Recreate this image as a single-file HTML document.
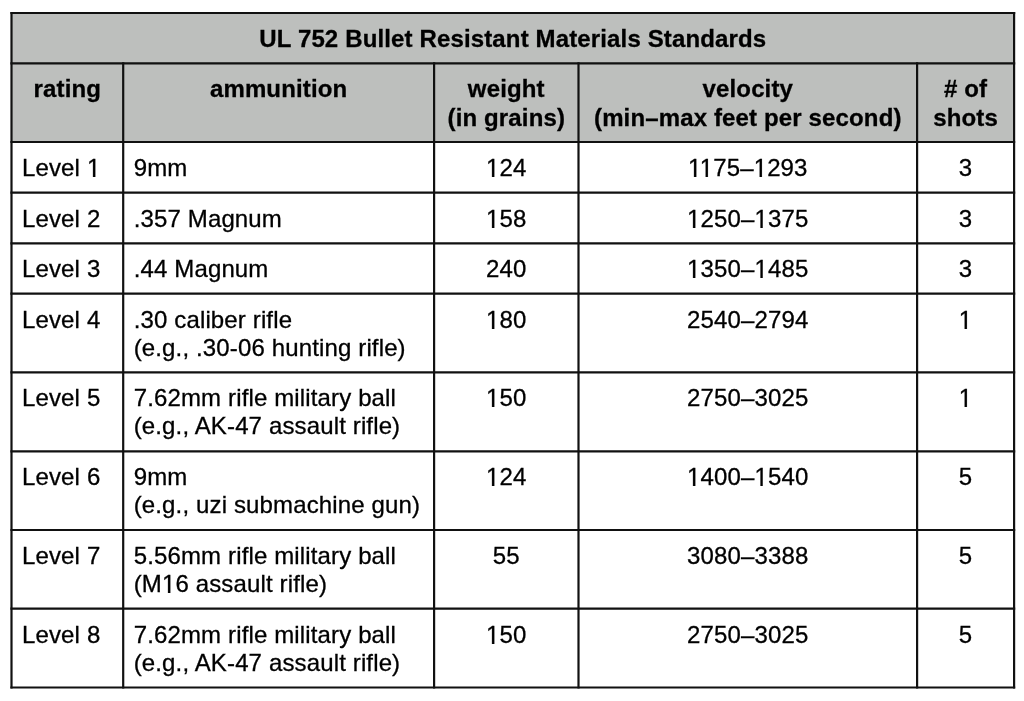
<!DOCTYPE html>
<html><head><meta charset="utf-8"><style>
html,body{margin:0;padding:0;background:#fff;width:1024px;height:701px;overflow:hidden;}
body{position:relative;font-family:"Liberation Sans",sans-serif;font-size:24px;line-height:28px;color:#000;letter-spacing:0.14px;-webkit-text-stroke:0.3px #000;}
#txt{position:absolute;left:0;top:0;width:1024px;height:701px;will-change:transform;}
.t{position:absolute;white-space:pre;}
.b{font-weight:bold;}
.c{text-align:center;}
svg{position:absolute;left:0;top:0;}
</style></head><body>
<svg width="1024" height="701" viewBox="0 0 1024 701">
<rect x="11.5" y="13" width="1002.6" height="129" fill="#bdbfbd"/>
<line x1="10.4" y1="13" x2="1015.2" y2="13" stroke="#111" stroke-width="2.2"/>
<line x1="10.4" y1="63.3" x2="1015.2" y2="63.3" stroke="#111" stroke-width="2.2"/>
<line x1="10.4" y1="142" x2="1015.2" y2="142" stroke="#111" stroke-width="2.2"/>
<line x1="10.4" y1="192.6" x2="1015.2" y2="192.6" stroke="#111" stroke-width="2.2"/>
<line x1="10.4" y1="243.3" x2="1015.2" y2="243.3" stroke="#111" stroke-width="2.2"/>
<line x1="10.4" y1="293.7" x2="1015.2" y2="293.7" stroke="#111" stroke-width="2.2"/>
<line x1="10.4" y1="372.4" x2="1015.2" y2="372.4" stroke="#111" stroke-width="2.2"/>
<line x1="10.4" y1="451.3" x2="1015.2" y2="451.3" stroke="#111" stroke-width="2.2"/>
<line x1="10.4" y1="530" x2="1015.2" y2="530" stroke="#111" stroke-width="2.2"/>
<line x1="10.4" y1="608.7" x2="1015.2" y2="608.7" stroke="#111" stroke-width="2.2"/>
<line x1="10.4" y1="687.5" x2="1015.2" y2="687.5" stroke="#111" stroke-width="2.2"/>
<line x1="11.5" y1="11.9" x2="11.5" y2="688.6" stroke="#111" stroke-width="2.2"/>
<line x1="123.2" y1="62.199999999999996" x2="123.2" y2="688.6" stroke="#111" stroke-width="2.2"/>
<line x1="434.1" y1="62.199999999999996" x2="434.1" y2="688.6" stroke="#111" stroke-width="2.2"/>
<line x1="578.5" y1="62.199999999999996" x2="578.5" y2="688.6" stroke="#111" stroke-width="2.2"/>
<line x1="917.1" y1="62.199999999999996" x2="917.1" y2="688.6" stroke="#111" stroke-width="2.2"/>
<line x1="1014.1" y1="11.9" x2="1014.1" y2="688.6" stroke="#111" stroke-width="2.2"/>
</svg>
<div id="txt">
<div class="t b c" style="left:11.50px;top:24.90px;width:1002.60px;">UL 752 Bullet Resistant Materials Standards</div>
<div class="t b c" style="left:11.50px;top:75.10px;width:111.70px;">rating</div>
<div class="t b c" style="left:123.20px;top:75.10px;width:310.90px;">ammunition</div>
<div class="t b c" style="left:434.10px;top:75.10px;width:144.40px;">weight</div>
<div class="t b c" style="left:434.10px;top:103.60px;width:144.40px;">(in grains)</div>
<div class="t b c" style="left:578.50px;top:75.10px;width:338.60px;">velocity</div>
<div class="t b c" style="left:578.50px;top:103.60px;width:338.60px;">(min–max feet per second)</div>
<div class="t b c" style="left:917.10px;top:75.10px;width:97.00px;"># of</div>
<div class="t b c" style="left:917.10px;top:103.60px;width:97.00px;">shots</div>
<div class="t " style="left:22.00px;top:154.00px;">Level 1</div>
<div class="t " style="left:133.70px;top:154.00px;">9mm</div>
<div class="t c" style="left:434.10px;top:154.00px;width:144.40px;">124</div>
<div class="t c" style="left:578.50px;top:154.00px;width:338.60px;">1175–1293</div>
<div class="t c" style="left:917.10px;top:154.00px;width:97.00px;">3</div>
<div class="t " style="left:22.00px;top:204.60px;">Level 2</div>
<div class="t " style="left:133.70px;top:204.60px;">.357 Magnum</div>
<div class="t c" style="left:434.10px;top:204.60px;width:144.40px;">158</div>
<div class="t c" style="left:578.50px;top:204.60px;width:338.60px;">1250–1375</div>
<div class="t c" style="left:917.10px;top:204.60px;width:97.00px;">3</div>
<div class="t " style="left:22.00px;top:255.30px;">Level 3</div>
<div class="t " style="left:133.70px;top:255.30px;">.44 Magnum</div>
<div class="t c" style="left:434.10px;top:255.30px;width:144.40px;">240</div>
<div class="t c" style="left:578.50px;top:255.30px;width:338.60px;">1350–1485</div>
<div class="t c" style="left:917.10px;top:255.30px;width:97.00px;">3</div>
<div class="t " style="left:22.00px;top:305.70px;">Level 4</div>
<div class="t " style="left:133.70px;top:305.70px;">.30 caliber rifle</div>
<div class="t " style="left:133.70px;top:333.70px;">(e.g., .30-06 hunting rifle)</div>
<div class="t c" style="left:434.10px;top:305.70px;width:144.40px;">180</div>
<div class="t c" style="left:578.50px;top:305.70px;width:338.60px;">2540–2794</div>
<div class="t c" style="left:917.10px;top:305.70px;width:97.00px;">1</div>
<div class="t " style="left:22.00px;top:384.40px;">Level 5</div>
<div class="t " style="left:133.70px;top:384.40px;">7.62mm rifle military ball</div>
<div class="t " style="left:133.70px;top:412.40px;">(e.g., AK-47 assault rifle)</div>
<div class="t c" style="left:434.10px;top:384.40px;width:144.40px;">150</div>
<div class="t c" style="left:578.50px;top:384.40px;width:338.60px;">2750–3025</div>
<div class="t c" style="left:917.10px;top:384.40px;width:97.00px;">1</div>
<div class="t " style="left:22.00px;top:463.30px;">Level 6</div>
<div class="t " style="left:133.70px;top:463.30px;">9mm</div>
<div class="t " style="left:133.70px;top:491.30px;">(e.g., uzi submachine gun)</div>
<div class="t c" style="left:434.10px;top:463.30px;width:144.40px;">124</div>
<div class="t c" style="left:578.50px;top:463.30px;width:338.60px;">1400–1540</div>
<div class="t c" style="left:917.10px;top:463.30px;width:97.00px;">5</div>
<div class="t " style="left:22.00px;top:542.00px;">Level 7</div>
<div class="t " style="left:133.70px;top:542.00px;">5.56mm rifle military ball</div>
<div class="t " style="left:133.70px;top:570.00px;">(M16 assault rifle)</div>
<div class="t c" style="left:434.10px;top:542.00px;width:144.40px;">55</div>
<div class="t c" style="left:578.50px;top:542.00px;width:338.60px;">3080–3388</div>
<div class="t c" style="left:917.10px;top:542.00px;width:97.00px;">5</div>
<div class="t " style="left:22.00px;top:620.70px;">Level 8</div>
<div class="t " style="left:133.70px;top:620.70px;">7.62mm rifle military ball</div>
<div class="t " style="left:133.70px;top:648.70px;">(e.g., AK-47 assault rifle)</div>
<div class="t c" style="left:434.10px;top:620.70px;width:144.40px;">150</div>
<div class="t c" style="left:578.50px;top:620.70px;width:338.60px;">2750–3025</div>
<div class="t c" style="left:917.10px;top:620.70px;width:97.00px;">5</div>
<!--ONES-->
<div id="ov"><style>#ov i{position:absolute;height:1px;display:block}</style><i style="left:88px;top:174px;width:4px;background:rgb(255,255,255)"></i><i style="left:92px;top:174px;width:1px;background:rgb(224,224,224)"></i><i style="left:93px;top:174px;width:1px;background:rgb(9,9,9)"></i><i style="left:95px;top:174px;width:1px;background:rgb(151,151,151)"></i><i style="left:96px;top:174px;width:4px;background:rgb(255,255,255)"></i><i style="left:88px;top:175px;width:4px;background:rgb(255,255,255)"></i><i style="left:92px;top:175px;width:1px;background:rgb(224,224,224)"></i><i style="left:93px;top:175px;width:1px;background:rgb(9,9,9)"></i><i style="left:95px;top:175px;width:1px;background:rgb(151,151,151)"></i><i style="left:96px;top:175px;width:4px;background:rgb(255,255,255)"></i><i style="left:88px;top:176px;width:4px;background:rgb(255,255,255)"></i><i style="left:92px;top:176px;width:1px;background:rgb(224,224,224)"></i><i style="left:93px;top:176px;width:1px;background:rgb(9,9,9)"></i><i style="left:94px;top:176px;width:1px;background:rgb(0,0,0)"></i><i style="left:95px;top:176px;width:1px;background:rgb(151,151,151)"></i><i style="left:96px;top:176px;width:4px;background:rgb(255,255,255)"></i><i style="left:487px;top:174px;width:4px;background:rgb(255,255,255)"></i><i style="left:491px;top:174px;width:1px;background:rgb(224,224,224)"></i><i style="left:492px;top:174px;width:1px;background:rgb(9,9,9)"></i><i style="left:494px;top:174px;width:1px;background:rgb(151,151,151)"></i><i style="left:495px;top:174px;width:4px;background:rgb(255,255,255)"></i><i style="left:487px;top:175px;width:4px;background:rgb(255,255,255)"></i><i style="left:491px;top:175px;width:1px;background:rgb(224,224,224)"></i><i style="left:492px;top:175px;width:1px;background:rgb(9,9,9)"></i><i style="left:494px;top:175px;width:1px;background:rgb(151,151,151)"></i><i style="left:495px;top:175px;width:4px;background:rgb(255,255,255)"></i><i style="left:487px;top:176px;width:4px;background:rgb(255,255,255)"></i><i style="left:491px;top:176px;width:1px;background:rgb(224,224,224)"></i><i style="left:492px;top:176px;width:1px;background:rgb(9,9,9)"></i><i style="left:493px;top:176px;width:1px;background:rgb(0,0,0)"></i><i style="left:494px;top:176px;width:1px;background:rgb(151,151,151)"></i><i style="left:495px;top:176px;width:4px;background:rgb(255,255,255)"></i><i style="left:689px;top:174px;width:4px;background:rgb(255,255,255)"></i><i style="left:693px;top:174px;width:1px;background:rgb(224,224,224)"></i><i style="left:694px;top:174px;width:1px;background:rgb(9,9,9)"></i><i style="left:696px;top:174px;width:1px;background:rgb(151,151,151)"></i><i style="left:697px;top:174px;width:4px;background:rgb(255,255,255)"></i><i style="left:689px;top:175px;width:4px;background:rgb(255,255,255)"></i><i style="left:693px;top:175px;width:1px;background:rgb(224,224,224)"></i><i style="left:694px;top:175px;width:1px;background:rgb(9,9,9)"></i><i style="left:696px;top:175px;width:1px;background:rgb(151,151,151)"></i><i style="left:697px;top:175px;width:4px;background:rgb(255,255,255)"></i><i style="left:689px;top:176px;width:4px;background:rgb(255,255,255)"></i><i style="left:693px;top:176px;width:1px;background:rgb(224,224,224)"></i><i style="left:694px;top:176px;width:1px;background:rgb(9,9,9)"></i><i style="left:695px;top:176px;width:1px;background:rgb(0,0,0)"></i><i style="left:696px;top:176px;width:1px;background:rgb(151,151,151)"></i><i style="left:697px;top:176px;width:4px;background:rgb(255,255,255)"></i><i style="left:701px;top:174px;width:4px;background:rgb(255,255,255)"></i><i style="left:705px;top:174px;width:1px;background:rgb(140,140,140)"></i><i style="left:707px;top:174px;width:1px;background:rgb(21,21,21)"></i><i style="left:708px;top:174px;width:1px;background:rgb(241,241,241)"></i><i style="left:709px;top:174px;width:4px;background:rgb(255,255,255)"></i><i style="left:701px;top:175px;width:4px;background:rgb(255,255,255)"></i><i style="left:705px;top:175px;width:1px;background:rgb(140,140,140)"></i><i style="left:707px;top:175px;width:1px;background:rgb(21,21,21)"></i><i style="left:708px;top:175px;width:1px;background:rgb(241,241,241)"></i><i style="left:709px;top:175px;width:4px;background:rgb(255,255,255)"></i><i style="left:701px;top:176px;width:4px;background:rgb(255,255,255)"></i><i style="left:705px;top:176px;width:1px;background:rgb(140,140,140)"></i><i style="left:706px;top:176px;width:1px;background:rgb(0,0,0)"></i><i style="left:707px;top:176px;width:1px;background:rgb(21,21,21)"></i><i style="left:708px;top:176px;width:1px;background:rgb(241,241,241)"></i><i style="left:709px;top:176px;width:4px;background:rgb(255,255,255)"></i><i style="left:755px;top:174px;width:4px;background:rgb(255,255,255)"></i><i style="left:759px;top:174px;width:1px;background:rgb(140,140,140)"></i><i style="left:761px;top:174px;width:1px;background:rgb(21,21,21)"></i><i style="left:762px;top:174px;width:1px;background:rgb(241,241,241)"></i><i style="left:763px;top:174px;width:4px;background:rgb(255,255,255)"></i><i style="left:755px;top:175px;width:4px;background:rgb(255,255,255)"></i><i style="left:759px;top:175px;width:1px;background:rgb(140,140,140)"></i><i style="left:761px;top:175px;width:1px;background:rgb(21,21,21)"></i><i style="left:762px;top:175px;width:1px;background:rgb(241,241,241)"></i><i style="left:763px;top:175px;width:4px;background:rgb(255,255,255)"></i><i style="left:755px;top:176px;width:4px;background:rgb(255,255,255)"></i><i style="left:759px;top:176px;width:1px;background:rgb(140,140,140)"></i><i style="left:760px;top:176px;width:1px;background:rgb(0,0,0)"></i><i style="left:761px;top:176px;width:1px;background:rgb(21,21,21)"></i><i style="left:762px;top:176px;width:1px;background:rgb(241,241,241)"></i><i style="left:763px;top:176px;width:4px;background:rgb(255,255,255)"></i><i style="left:487px;top:225px;width:4px;background:rgb(255,255,255)"></i><i style="left:491px;top:225px;width:1px;background:rgb(224,224,224)"></i><i style="left:492px;top:225px;width:1px;background:rgb(9,9,9)"></i><i style="left:494px;top:225px;width:1px;background:rgb(151,151,151)"></i><i style="left:495px;top:225px;width:4px;background:rgb(255,255,255)"></i><i style="left:487px;top:226px;width:4px;background:rgb(255,255,255)"></i><i style="left:491px;top:226px;width:1px;background:rgb(224,224,224)"></i><i style="left:492px;top:226px;width:1px;background:rgb(9,9,9)"></i><i style="left:494px;top:226px;width:1px;background:rgb(151,151,151)"></i><i style="left:495px;top:226px;width:4px;background:rgb(255,255,255)"></i><i style="left:487px;top:227px;width:4px;background:rgb(255,255,255)"></i><i style="left:491px;top:227px;width:1px;background:rgb(224,224,224)"></i><i style="left:492px;top:227px;width:1px;background:rgb(9,9,9)"></i><i style="left:493px;top:227px;width:1px;background:rgb(0,0,0)"></i><i style="left:494px;top:227px;width:1px;background:rgb(151,151,151)"></i><i style="left:495px;top:227px;width:4px;background:rgb(255,255,255)"></i><i style="left:688px;top:225px;width:4px;background:rgb(255,255,255)"></i><i style="left:692px;top:225px;width:1px;background:rgb(224,224,224)"></i><i style="left:693px;top:225px;width:1px;background:rgb(9,9,9)"></i><i style="left:695px;top:225px;width:1px;background:rgb(151,151,151)"></i><i style="left:696px;top:225px;width:4px;background:rgb(255,255,255)"></i><i style="left:688px;top:226px;width:4px;background:rgb(255,255,255)"></i><i style="left:692px;top:226px;width:1px;background:rgb(224,224,224)"></i><i style="left:693px;top:226px;width:1px;background:rgb(9,9,9)"></i><i style="left:695px;top:226px;width:1px;background:rgb(151,151,151)"></i><i style="left:696px;top:226px;width:4px;background:rgb(255,255,255)"></i><i style="left:688px;top:227px;width:4px;background:rgb(255,255,255)"></i><i style="left:692px;top:227px;width:1px;background:rgb(224,224,224)"></i><i style="left:693px;top:227px;width:1px;background:rgb(9,9,9)"></i><i style="left:694px;top:227px;width:1px;background:rgb(0,0,0)"></i><i style="left:695px;top:227px;width:1px;background:rgb(151,151,151)"></i><i style="left:696px;top:227px;width:4px;background:rgb(255,255,255)"></i><i style="left:756px;top:225px;width:4px;background:rgb(255,255,255)"></i><i style="left:760px;top:225px;width:1px;background:rgb(97,97,97)"></i><i style="left:762px;top:225px;width:1px;background:rgb(65,65,65)"></i><i style="left:763px;top:225px;width:4px;background:rgb(255,255,255)"></i><i style="left:756px;top:226px;width:4px;background:rgb(255,255,255)"></i><i style="left:760px;top:226px;width:1px;background:rgb(97,97,97)"></i><i style="left:762px;top:226px;width:1px;background:rgb(65,65,65)"></i><i style="left:763px;top:226px;width:4px;background:rgb(255,255,255)"></i><i style="left:756px;top:227px;width:4px;background:rgb(255,255,255)"></i><i style="left:760px;top:227px;width:1px;background:rgb(97,97,97)"></i><i style="left:761px;top:227px;width:1px;background:rgb(0,0,0)"></i><i style="left:762px;top:227px;width:1px;background:rgb(65,65,65)"></i><i style="left:763px;top:227px;width:4px;background:rgb(255,255,255)"></i><i style="left:688px;top:275px;width:4px;background:rgb(255,255,255)"></i><i style="left:692px;top:275px;width:1px;background:rgb(224,224,224)"></i><i style="left:693px;top:275px;width:1px;background:rgb(9,9,9)"></i><i style="left:695px;top:275px;width:1px;background:rgb(151,151,151)"></i><i style="left:696px;top:275px;width:4px;background:rgb(255,255,255)"></i><i style="left:688px;top:276px;width:4px;background:rgb(255,255,255)"></i><i style="left:692px;top:276px;width:1px;background:rgb(224,224,224)"></i><i style="left:693px;top:276px;width:1px;background:rgb(9,9,9)"></i><i style="left:695px;top:276px;width:1px;background:rgb(151,151,151)"></i><i style="left:696px;top:276px;width:4px;background:rgb(255,255,255)"></i><i style="left:688px;top:277px;width:4px;background:rgb(255,255,255)"></i><i style="left:692px;top:277px;width:1px;background:rgb(224,224,224)"></i><i style="left:693px;top:277px;width:1px;background:rgb(9,9,9)"></i><i style="left:694px;top:277px;width:1px;background:rgb(0,0,0)"></i><i style="left:695px;top:277px;width:1px;background:rgb(151,151,151)"></i><i style="left:696px;top:277px;width:4px;background:rgb(255,255,255)"></i><i style="left:756px;top:275px;width:4px;background:rgb(255,255,255)"></i><i style="left:760px;top:275px;width:1px;background:rgb(97,97,97)"></i><i style="left:762px;top:275px;width:1px;background:rgb(65,65,65)"></i><i style="left:763px;top:275px;width:4px;background:rgb(255,255,255)"></i><i style="left:756px;top:276px;width:4px;background:rgb(255,255,255)"></i><i style="left:760px;top:276px;width:1px;background:rgb(97,97,97)"></i><i style="left:762px;top:276px;width:1px;background:rgb(65,65,65)"></i><i style="left:763px;top:276px;width:4px;background:rgb(255,255,255)"></i><i style="left:756px;top:277px;width:4px;background:rgb(255,255,255)"></i><i style="left:760px;top:277px;width:1px;background:rgb(97,97,97)"></i><i style="left:761px;top:277px;width:1px;background:rgb(0,0,0)"></i><i style="left:762px;top:277px;width:1px;background:rgb(65,65,65)"></i><i style="left:763px;top:277px;width:4px;background:rgb(255,255,255)"></i><i style="left:487px;top:326px;width:4px;background:rgb(255,255,255)"></i><i style="left:491px;top:326px;width:1px;background:rgb(224,224,224)"></i><i style="left:492px;top:326px;width:1px;background:rgb(9,9,9)"></i><i style="left:494px;top:326px;width:1px;background:rgb(151,151,151)"></i><i style="left:495px;top:326px;width:4px;background:rgb(255,255,255)"></i><i style="left:487px;top:327px;width:4px;background:rgb(255,255,255)"></i><i style="left:491px;top:327px;width:1px;background:rgb(224,224,224)"></i><i style="left:492px;top:327px;width:1px;background:rgb(9,9,9)"></i><i style="left:494px;top:327px;width:1px;background:rgb(151,151,151)"></i><i style="left:495px;top:327px;width:4px;background:rgb(255,255,255)"></i><i style="left:487px;top:328px;width:4px;background:rgb(255,255,255)"></i><i style="left:491px;top:328px;width:1px;background:rgb(224,224,224)"></i><i style="left:492px;top:328px;width:1px;background:rgb(9,9,9)"></i><i style="left:493px;top:328px;width:1px;background:rgb(0,0,0)"></i><i style="left:494px;top:328px;width:1px;background:rgb(151,151,151)"></i><i style="left:495px;top:328px;width:4px;background:rgb(255,255,255)"></i><i style="left:960px;top:326px;width:4px;background:rgb(255,255,255)"></i><i style="left:964px;top:326px;width:1px;background:rgb(140,140,140)"></i><i style="left:966px;top:326px;width:1px;background:rgb(21,21,21)"></i><i style="left:967px;top:326px;width:1px;background:rgb(241,241,241)"></i><i style="left:968px;top:326px;width:4px;background:rgb(255,255,255)"></i><i style="left:960px;top:327px;width:4px;background:rgb(255,255,255)"></i><i style="left:964px;top:327px;width:1px;background:rgb(140,140,140)"></i><i style="left:966px;top:327px;width:1px;background:rgb(21,21,21)"></i><i style="left:967px;top:327px;width:1px;background:rgb(241,241,241)"></i><i style="left:968px;top:327px;width:4px;background:rgb(255,255,255)"></i><i style="left:960px;top:328px;width:4px;background:rgb(255,255,255)"></i><i style="left:964px;top:328px;width:1px;background:rgb(140,140,140)"></i><i style="left:965px;top:328px;width:1px;background:rgb(0,0,0)"></i><i style="left:966px;top:328px;width:1px;background:rgb(21,21,21)"></i><i style="left:967px;top:328px;width:1px;background:rgb(241,241,241)"></i><i style="left:968px;top:328px;width:4px;background:rgb(255,255,255)"></i><i style="left:487px;top:404px;width:4px;background:rgb(255,255,255)"></i><i style="left:491px;top:404px;width:1px;background:rgb(224,224,224)"></i><i style="left:492px;top:404px;width:1px;background:rgb(9,9,9)"></i><i style="left:494px;top:404px;width:1px;background:rgb(151,151,151)"></i><i style="left:495px;top:404px;width:4px;background:rgb(255,255,255)"></i><i style="left:487px;top:405px;width:4px;background:rgb(255,255,255)"></i><i style="left:491px;top:405px;width:1px;background:rgb(224,224,224)"></i><i style="left:492px;top:405px;width:1px;background:rgb(9,9,9)"></i><i style="left:494px;top:405px;width:1px;background:rgb(151,151,151)"></i><i style="left:495px;top:405px;width:4px;background:rgb(255,255,255)"></i><i style="left:487px;top:406px;width:4px;background:rgb(255,255,255)"></i><i style="left:491px;top:406px;width:1px;background:rgb(224,224,224)"></i><i style="left:492px;top:406px;width:1px;background:rgb(9,9,9)"></i><i style="left:493px;top:406px;width:1px;background:rgb(0,0,0)"></i><i style="left:494px;top:406px;width:1px;background:rgb(151,151,151)"></i><i style="left:495px;top:406px;width:4px;background:rgb(255,255,255)"></i><i style="left:960px;top:404px;width:4px;background:rgb(255,255,255)"></i><i style="left:964px;top:404px;width:1px;background:rgb(140,140,140)"></i><i style="left:966px;top:404px;width:1px;background:rgb(21,21,21)"></i><i style="left:967px;top:404px;width:1px;background:rgb(241,241,241)"></i><i style="left:968px;top:404px;width:4px;background:rgb(255,255,255)"></i><i style="left:960px;top:405px;width:4px;background:rgb(255,255,255)"></i><i style="left:964px;top:405px;width:1px;background:rgb(140,140,140)"></i><i style="left:966px;top:405px;width:1px;background:rgb(21,21,21)"></i><i style="left:967px;top:405px;width:1px;background:rgb(241,241,241)"></i><i style="left:968px;top:405px;width:4px;background:rgb(255,255,255)"></i><i style="left:960px;top:406px;width:4px;background:rgb(255,255,255)"></i><i style="left:964px;top:406px;width:1px;background:rgb(140,140,140)"></i><i style="left:965px;top:406px;width:1px;background:rgb(0,0,0)"></i><i style="left:966px;top:406px;width:1px;background:rgb(21,21,21)"></i><i style="left:967px;top:406px;width:1px;background:rgb(241,241,241)"></i><i style="left:968px;top:406px;width:4px;background:rgb(255,255,255)"></i><i style="left:487px;top:483px;width:4px;background:rgb(255,255,255)"></i><i style="left:491px;top:483px;width:1px;background:rgb(224,224,224)"></i><i style="left:492px;top:483px;width:1px;background:rgb(9,9,9)"></i><i style="left:494px;top:483px;width:1px;background:rgb(151,151,151)"></i><i style="left:495px;top:483px;width:4px;background:rgb(255,255,255)"></i><i style="left:487px;top:484px;width:4px;background:rgb(255,255,255)"></i><i style="left:491px;top:484px;width:1px;background:rgb(224,224,224)"></i><i style="left:492px;top:484px;width:1px;background:rgb(9,9,9)"></i><i style="left:494px;top:484px;width:1px;background:rgb(151,151,151)"></i><i style="left:495px;top:484px;width:4px;background:rgb(255,255,255)"></i><i style="left:487px;top:485px;width:4px;background:rgb(255,255,255)"></i><i style="left:491px;top:485px;width:1px;background:rgb(224,224,224)"></i><i style="left:492px;top:485px;width:1px;background:rgb(9,9,9)"></i><i style="left:493px;top:485px;width:1px;background:rgb(0,0,0)"></i><i style="left:494px;top:485px;width:1px;background:rgb(151,151,151)"></i><i style="left:495px;top:485px;width:4px;background:rgb(255,255,255)"></i><i style="left:700px;top:481px;width:1px;background:rgb(255,255,255)"></i><i style="left:688px;top:483px;width:4px;background:rgb(255,255,255)"></i><i style="left:692px;top:483px;width:1px;background:rgb(224,224,224)"></i><i style="left:693px;top:483px;width:1px;background:rgb(9,9,9)"></i><i style="left:695px;top:483px;width:1px;background:rgb(151,151,151)"></i><i style="left:696px;top:483px;width:4px;background:rgb(255,255,255)"></i><i style="left:688px;top:484px;width:4px;background:rgb(255,255,255)"></i><i style="left:692px;top:484px;width:1px;background:rgb(224,224,224)"></i><i style="left:693px;top:484px;width:1px;background:rgb(9,9,9)"></i><i style="left:695px;top:484px;width:1px;background:rgb(151,151,151)"></i><i style="left:696px;top:484px;width:4px;background:rgb(255,255,255)"></i><i style="left:688px;top:485px;width:4px;background:rgb(255,255,255)"></i><i style="left:692px;top:485px;width:1px;background:rgb(224,224,224)"></i><i style="left:693px;top:485px;width:1px;background:rgb(9,9,9)"></i><i style="left:694px;top:485px;width:1px;background:rgb(0,0,0)"></i><i style="left:695px;top:485px;width:1px;background:rgb(151,151,151)"></i><i style="left:696px;top:485px;width:4px;background:rgb(255,255,255)"></i><i style="left:756px;top:483px;width:4px;background:rgb(255,255,255)"></i><i style="left:760px;top:483px;width:1px;background:rgb(97,97,97)"></i><i style="left:762px;top:483px;width:1px;background:rgb(65,65,65)"></i><i style="left:763px;top:483px;width:4px;background:rgb(255,255,255)"></i><i style="left:756px;top:484px;width:4px;background:rgb(255,255,255)"></i><i style="left:760px;top:484px;width:1px;background:rgb(97,97,97)"></i><i style="left:762px;top:484px;width:1px;background:rgb(65,65,65)"></i><i style="left:763px;top:484px;width:4px;background:rgb(255,255,255)"></i><i style="left:756px;top:485px;width:4px;background:rgb(255,255,255)"></i><i style="left:760px;top:485px;width:1px;background:rgb(97,97,97)"></i><i style="left:761px;top:485px;width:1px;background:rgb(0,0,0)"></i><i style="left:762px;top:485px;width:1px;background:rgb(65,65,65)"></i><i style="left:763px;top:485px;width:4px;background:rgb(255,255,255)"></i><i style="left:163px;top:590px;width:4px;background:rgb(255,255,255)"></i><i style="left:167px;top:590px;width:1px;background:rgb(224,224,224)"></i><i style="left:168px;top:590px;width:1px;background:rgb(9,9,9)"></i><i style="left:170px;top:590px;width:1px;background:rgb(151,151,151)"></i><i style="left:171px;top:590px;width:4px;background:rgb(255,255,255)"></i><i style="left:163px;top:591px;width:4px;background:rgb(255,255,255)"></i><i style="left:167px;top:591px;width:1px;background:rgb(224,224,224)"></i><i style="left:168px;top:591px;width:1px;background:rgb(9,9,9)"></i><i style="left:170px;top:591px;width:1px;background:rgb(151,151,151)"></i><i style="left:171px;top:591px;width:4px;background:rgb(255,255,255)"></i><i style="left:163px;top:592px;width:4px;background:rgb(255,255,255)"></i><i style="left:167px;top:592px;width:1px;background:rgb(224,224,224)"></i><i style="left:168px;top:592px;width:1px;background:rgb(9,9,9)"></i><i style="left:169px;top:592px;width:1px;background:rgb(0,0,0)"></i><i style="left:170px;top:592px;width:1px;background:rgb(151,151,151)"></i><i style="left:171px;top:592px;width:4px;background:rgb(255,255,255)"></i><i style="left:487px;top:641px;width:4px;background:rgb(255,255,255)"></i><i style="left:491px;top:641px;width:1px;background:rgb(224,224,224)"></i><i style="left:492px;top:641px;width:1px;background:rgb(9,9,9)"></i><i style="left:494px;top:641px;width:1px;background:rgb(151,151,151)"></i><i style="left:495px;top:641px;width:4px;background:rgb(255,255,255)"></i><i style="left:487px;top:642px;width:4px;background:rgb(255,255,255)"></i><i style="left:491px;top:642px;width:1px;background:rgb(224,224,224)"></i><i style="left:492px;top:642px;width:1px;background:rgb(9,9,9)"></i><i style="left:494px;top:642px;width:1px;background:rgb(151,151,151)"></i><i style="left:495px;top:642px;width:4px;background:rgb(255,255,255)"></i><i style="left:487px;top:643px;width:4px;background:rgb(255,255,255)"></i><i style="left:491px;top:643px;width:1px;background:rgb(224,224,224)"></i><i style="left:492px;top:643px;width:1px;background:rgb(9,9,9)"></i><i style="left:493px;top:643px;width:1px;background:rgb(0,0,0)"></i><i style="left:494px;top:643px;width:1px;background:rgb(151,151,151)"></i><i style="left:495px;top:643px;width:4px;background:rgb(255,255,255)"></i></div>
</div></body></html>
